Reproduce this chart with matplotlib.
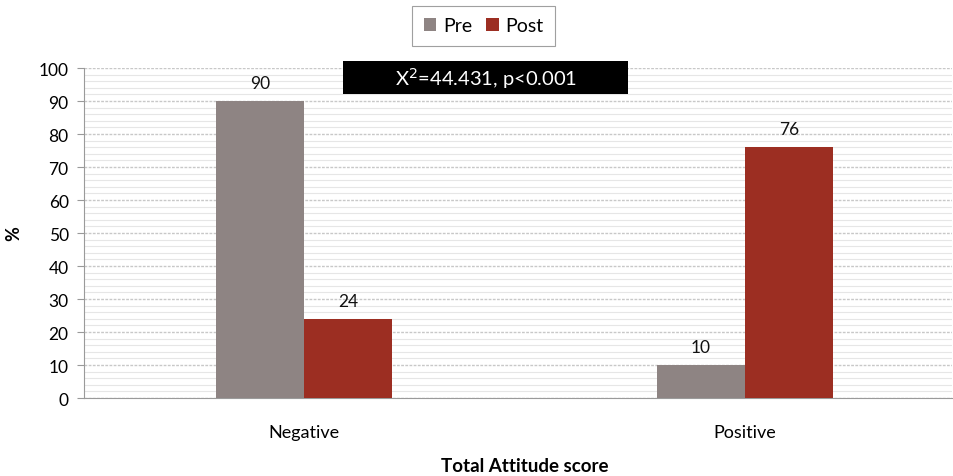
import matplotlib
matplotlib.use("Agg")
import matplotlib.pyplot as plt
from matplotlib.patches import Rectangle
import numpy as np

categories = ["Negative", "Positive"]
series_names = ["Pre", "Post"]
pre_values = [90, 10]
post_values = [24, 76]
stat_label = "X$^2$=44.431, p<0.001"
x_label = "Total Attitude score"
y_label = "%"

pre_color = "#8E8483"
post_color = "#9C2E22"

plt.rcParams["font.family"] = ["Lato", "DejaVu Sans"]

fig = plt.figure(figsize=(9.54, 4.77), dpi=100)
ax = fig.add_axes([0.088, 0.1635, 0.91, 0.6918])

x = np.arange(len(categories))
w = 0.2
b1 = ax.bar(x - w / 2, pre_values, w, color=pre_color, label=series_names[0], zorder=3)
b2 = ax.bar(x + w / 2, post_values, w, color=post_color, label=series_names[1], zorder=3)

for bars, vals in ((b1, pre_values), (b2, post_values)):
    for bar, v in zip(bars, vals):
        ax.text(bar.get_x() + bar.get_width() / 2, v + 3, f"{v}",
                ha="center", va="bottom", fontsize=12.5, color="#111111")

ax.set_xlim(-0.5, 1.47)
ax.set_ylim(0, 100)
ax.set_yticks(np.arange(0, 101, 10))
ax.set_yticks(np.arange(0, 101, 2), minor=True)
ax.set_xticks(x)
ax.set_xticklabels(categories, fontsize=13)
ax.tick_params(axis="x", length=0, pad=19)
ax.tick_params(axis="y", which="major", length=5, color="#999999", labelsize=12.5, pad=6)
ax.tick_params(axis="y", which="minor", length=0)

ax.grid(axis="y", which="major", color="#C8C8C8", linestyle=(0, (2, 1)), linewidth=1.0, zorder=0)
ax.grid(axis="y", which="minor", color="#E6E6E6", linestyle="-", linewidth=0.8, zorder=0)

for side in ("top", "right"):
    ax.spines[side].set_visible(False)
ax.spines["left"].set_color("#9A9A9A")
ax.spines["bottom"].set_color("#9A9A9A")

# axis titles
fig.text(ax.get_position().x0 + (0.5 - (-0.5)) / (1.47 + 0.5) * 0.91, 0.022, x_label,
         ha="center", va="center", fontsize=13.5, fontweight="bold")
ax.set_ylabel(y_label, fontsize=13, fontweight="bold", labelpad=12)

# chi-square annotation box above the bars
ax.add_patch(Rectangle((0.0886, 92.2), 0.646, 9.8, facecolor="black",
                       edgecolor="none", clip_on=False, zorder=4))
ax.text(0.0886 + 0.646 / 2, 97.1, stat_label, ha="center", va="center",
        color="white", fontsize=14.5, zorder=5)

leg = fig.legend(handles=[b1, b2], labels=series_names, loc="center",
                 bbox_to_anchor=(0.507, 0.944), ncol=2, frameon=True,
                 fontsize=14, handlelength=0.65, handleheight=0.65,
                 handletextpad=0.35, columnspacing=0.7, borderpad=0.6,
                 fancybox=False)
leg.get_frame().set_edgecolor("#888888")
leg.get_frame().set_linewidth(0.8)

fig.savefig("out.png", dpi=100, facecolor="white")
